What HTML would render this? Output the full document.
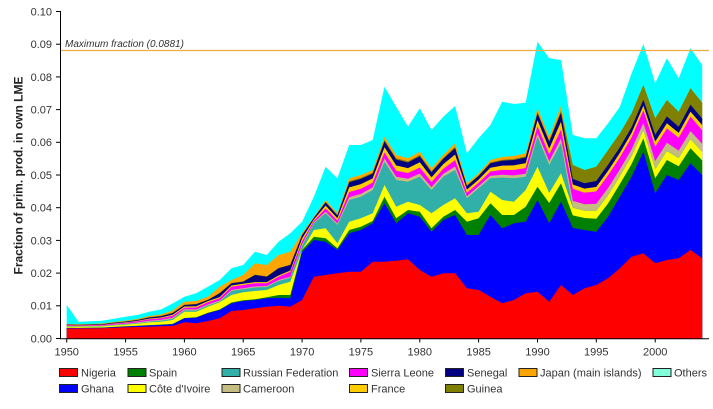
<!DOCTYPE html>
<html>
<head>
<meta charset="utf-8">
<style>
html,body{margin:0;padding:0;background:#fff;}
svg{display:block;}
text{font-family:"Liberation Sans",Arial,sans-serif;}
</style>
</head>
<body>
<svg width="713" height="409" viewBox="0 0 713 409" xmlns="http://www.w3.org/2000/svg">
<rect width="713" height="409" fill="#fff"/>
<!-- Others -->
<polygon fill="#00ffff" points="66.7,338.5 66.7,305 78.5,321.7 90.2,321.3 102,320.7 113.8,318.7 125.6,316.7 137.3,315 149.1,311.7 160.9,309.5 172.6,303.5 184.4,296.7 196.2,293.3 207.9,286.7 219.7,280 231.5,268.3 243.2,265 255,251.7 266.8,255 278.6,241.7 290.3,233.3 302.1,221.7 313.9,196.7 325.6,166.7 337.4,178.3 349.2,145 360.9,145 372.7,140 384.5,86.7 396.2,106.7 408,126.7 419.8,108.3 431.5,130 443.3,116.7 455.1,106 466.9,153.3 478.6,138.3 490.4,125 502.2,101.7 513.9,104 525.7,102.7 537.5,41.7 549.2,58.3 561,60 572.8,135 584.5,138.3 596.3,138.3 608.1,123.3 619.9,106.7 631.6,73.3 643.4,44 655.2,83.3 666.9,58.3 678.7,78.3 690.5,48.3 702.2,65 702.2,338.5"/>
<!-- Japan -->
<polygon fill="#ffa500" points="66.7,338.5 66.7,324 78.5,324.3 90.2,324 102,323.5 113.8,322 125.6,320.7 137.3,319 149.1,316 160.9,314.5 172.6,310.5 184.4,301.7 196.2,301 207.9,296.7 219.7,286.7 231.5,280 243.2,275 255,263.3 266.8,265 278.6,255 290.3,251.7 302.1,233 313.9,216.7 325.6,200 337.4,213.3 349.2,178.3 360.9,175 372.7,170 384.5,136.7 396.2,155 408,158.3 419.8,151.7 431.5,168.3 443.3,155 455.1,143.3 466.9,183.3 478.6,173.3 490.4,160 502.2,157 513.9,156 525.7,153.3 537.5,108.3 549.2,136.7 561,106 572.8,165 584.5,170 596.3,166.7 608.1,150 619.9,133.3 631.6,113.3 643.4,85 655.2,118.3 666.9,100 678.7,111.7 690.5,88.3 702.2,102.7 702.2,338.5"/>
<!-- Guinea -->
<polygon fill="#808000" points="66.7,338.5 66.7,324.5 78.5,324.7 90.2,324.4 102,324 113.8,322.6 125.6,321.4 137.3,319.8 149.1,317.1 160.9,315.8 172.6,312.5 184.4,304.6 196.2,303.9 207.9,299.6 219.7,292.9 231.5,282.9 243.2,281.3 255,274.6 266.8,276.3 278.6,267.9 290.3,264.6 302.1,234.7 313.9,217.6 325.6,201.7 337.4,214.8 349.2,181.1 360.9,177.8 372.7,172.6 384.5,139.9 396.2,158.3 408,161.3 419.8,154.9 431.5,171.1 443.3,157.8 455.1,146.8 466.9,185.3 478.6,175.3 490.4,162.4 502.2,159.7 513.9,158.9 525.7,156.3 537.5,112 549.2,140.4 561,110.8 572.8,165 584.5,170 596.3,166.7 608.1,150 619.9,133.3 631.6,113.3 643.4,85 655.2,118.3 666.9,100 678.7,111.7 690.5,88.3 702.2,102.7 702.2,338.5"/>
<!-- Senegal -->
<polygon fill="#000080" points="66.7,338.5 66.7,324.6 78.5,324.9 90.2,324.6 102,324.2 113.8,322.8 125.6,321.6 137.3,320.1 149.1,317.5 160.9,316.3 172.6,313.2 184.4,305 196.2,304.3 207.9,300 219.7,293.3 231.5,283.3 243.2,281.7 255,275 266.8,276.7 278.6,268.3 290.3,265 302.1,235.3 313.9,217.9 325.6,202.4 337.4,215.4 349.2,182.2 360.9,178.9 372.7,173.6 384.5,141.2 396.2,159.5 408,162.5 419.8,156.2 431.5,172.2 443.3,158.9 455.1,148.1 466.9,186 478.6,176 490.4,163.3 502.2,160.7 513.9,160 525.7,157.5 537.5,113.4 549.2,141.8 561,112.7 572.8,178.9 584.5,183.2 596.3,181 608.1,164.7 619.9,147.2 631.6,127.2 643.4,99.7 655.2,134.8 666.9,116.5 678.7,126.7 690.5,104.8 702.2,118.6 702.2,338.5"/>
<!-- France -->
<polygon fill="#ffcc00" points="66.7,338.5 66.7,325.1 78.5,325.3 90.2,325.1 102,324.7 113.8,323.4 125.6,322.3 137.3,320.9 149.1,318.6 160.9,317.5 172.6,314.8 184.4,306.5 196.2,306.3 207.9,301.1 219.7,297.1 231.5,285.5 243.2,283.8 255,282.1 266.8,282.1 278.6,275.5 290.3,270.5 302.1,238.5 313.9,219.5 325.6,205.6 337.4,218.2 349.2,187.4 360.9,184.1 372.7,178.4 384.5,147.2 396.2,165.5 408,168.1 419.8,162.2 431.5,177.4 443.3,164.1 455.1,154.5 466.9,189.6 478.6,179.6 490.4,167.7 502.2,165.6 513.9,165.4 525.7,163.1 537.5,120.2 549.2,148.6 561,121.7 572.8,184.5 584.5,188.6 596.3,186.9 608.1,170.7 619.9,152.9 631.6,132.9 643.4,105.7 655.2,141.6 666.9,123.3 678.7,132.9 690.5,111.6 702.2,125.1 702.2,338.5"/>
<!-- Sierra Leone -->
<polygon fill="#ff00ff" points="66.7,338.5 66.7,325.4 78.5,325.6 90.2,325.3 102,324.9 113.8,323.7 125.6,322.7 137.3,321.4 149.1,319.2 160.9,318.2 172.6,315.8 184.4,307.7 196.2,307.5 207.9,302.3 219.7,298.3 231.5,286.7 243.2,285 255,283.3 266.8,283.3 278.6,276.7 290.3,271.7 302.1,241.2 313.9,220.9 325.6,208.4 337.4,220.7 349.2,192 360.9,188.7 372.7,182.6 384.5,152.5 396.2,170.8 408,173 419.8,167.5 431.5,182 443.3,168.7 455.1,160.1 466.9,192.8 478.6,182.8 490.4,171.5 502.2,169.9 513.9,170 525.7,168 537.5,126.2 549.2,154.5 561,129.5 572.8,188.9 584.5,192.8 596.3,191.4 608.1,175.3 619.9,157.4 631.6,137.4 643.4,110.3 655.2,146.8 666.9,128.5 678.7,137.7 690.5,116.8 702.2,130.2 702.2,338.5"/>
<!-- Cameroon -->
<polygon fill="#c4bc80" points="66.7,338.5 66.7,326 78.5,326.1 90.2,325.9 102,325.6 113.8,324.6 125.6,323.6 137.3,322.5 149.1,320.7 160.9,319.9 172.6,317.8 184.4,309.3 196.2,309.5 207.9,304.5 219.7,300.5 231.5,290 243.2,288.3 255,286.5 266.8,286 278.6,280 290.3,276.7 302.1,244.3 313.9,222.4 325.6,211.6 337.4,223.5 349.2,197.2 360.9,193.9 372.7,187.4 384.5,158.5 396.2,176.8 408,178.7 419.8,173.5 431.5,187.2 443.3,173.9 455.1,166.5 466.9,196.3 478.6,186.3 490.4,175.9 502.2,174.8 513.9,175.4 525.7,173.7 537.5,133 549.2,161.3 561,138.5 572.8,200.9 584.5,204.2 596.3,203.7 608.1,188 619.9,169.4 631.6,149.4 643.4,123 655.2,161.1 666.9,142.8 678.7,150.6 690.5,131.1 702.2,143.9 702.2,338.5"/>
<!-- Russian Federation -->
<polygon fill="#30b0a8" points="66.7,338.5 66.7,326.3 78.5,326.5 90.2,326.3 102,326 113.8,325 125.6,324.1 137.3,323.2 149.1,321.6 160.9,320.8 172.6,318.9 184.4,310.3 196.2,310.5 207.9,305.5 219.7,301.5 231.5,291 243.2,289.3 255,287.5 266.8,287 278.6,281 290.3,277.7 302.1,246 313.9,223.3 325.6,213.3 337.4,225 349.2,200 360.9,196.7 372.7,190 384.5,161.7 396.2,180 408,181.7 419.8,176.7 431.5,190 443.3,176.7 455.1,170 466.9,198.3 478.6,188.3 490.4,178.3 502.2,177.5 513.9,178.3 525.7,176.7 537.5,136.7 549.2,165 561,143.3 572.8,207.5 584.5,210.5 596.3,210.6 608.1,195 619.9,176.1 631.6,156.1 643.4,130 655.2,168.9 666.9,150.6 678.7,157.8 690.5,138.9 702.2,151.5 702.2,338.5"/>
<!-- Cote d'Ivoire -->
<polygon fill="#ffff00" points="66.7,338.5 66.7,326.7 78.5,326.8 90.2,326.6 102,326.4 113.8,325.5 125.6,324.7 137.3,323.8 149.1,322.4 160.9,321.7 172.6,320 184.4,311.7 196.2,311.7 207.9,306.7 219.7,302.3 231.5,295 243.2,292.3 255,291 266.8,290 278.6,285 290.3,281.7 302.1,250 313.9,230 325.6,228.3 337.4,243.3 349.2,221.7 360.9,218.3 372.7,213.3 384.5,185 396.2,206.7 408,201.7 419.8,205 431.5,213.3 443.3,205 455.1,198.3 466.9,213.3 478.6,211.7 490.4,191.7 502.2,200 513.9,201.7 525.7,190 537.5,166.7 549.2,193 561,173.3 572.8,207.8 584.5,210.8 596.3,210.9 608.1,195.4 619.9,176.4 631.6,156.4 643.4,130.4 655.2,169.3 666.9,151 678.7,158.1 690.5,139.3 702.2,151.9 702.2,338.5"/>
<!-- Spain -->
<polygon fill="#008000" points="66.7,338.5 66.7,327.8 78.5,327.9 90.2,327.7 102,327.6 113.8,326.9 125.6,326.3 137.3,325.8 149.1,325.1 160.9,324.6 172.6,323.9 184.4,318 196.2,317.3 207.9,312.8 219.7,309.5 231.5,302.5 243.2,300.2 255,299.2 266.8,297.3 278.6,295 290.3,295 302.1,250 313.9,236.7 325.6,238.3 337.4,248.3 349.2,230 360.9,226.7 372.7,221 384.5,196.7 396.2,218.3 408,210 419.8,211.7 431.5,228.3 443.3,216.7 455.1,210 466.9,221.7 478.6,218.3 490.4,203.3 502.2,215 513.9,215 525.7,206.7 537.5,186.7 549.2,203 561,183.3 572.8,215.4 584.5,218 596.3,218.7 608.1,203.4 619.9,184 631.6,164 643.4,138.4 655.2,178.3 666.9,160 678.7,166.3 690.5,148.3 702.2,160.5 702.2,338.5"/>
<!-- Ghana -->
<polygon fill="#0000ff" points="66.7,338.5 66.7,328 78.5,328 90.2,327.9 102,327.7 113.8,327.1 125.6,326.5 137.3,326 149.1,325.4 160.9,324.9 172.6,324.3 184.4,318.3 196.2,317.7 207.9,313.3 219.7,310 231.5,303.3 243.2,301 255,300 266.8,298.3 278.6,297.7 290.3,298.3 302.1,252 313.9,240 325.6,241.7 337.4,250 349.2,233.3 360.9,230 372.7,223.3 384.5,203.3 396.2,223.3 408,213.3 419.8,216.7 431.5,231.7 443.3,220 455.1,215 466.9,235 478.6,235 490.4,215 502.2,228.3 513.9,223.3 525.7,221.7 537.5,200 549.2,223.3 561,201.7 572.8,228 584.5,230 596.3,231.7 608.1,216.7 619.9,196.7 631.6,176.7 643.4,151.7 655.2,193.3 666.9,175 678.7,180 690.5,163.3 702.2,175 702.2,338.5"/>
<!-- Nigeria -->
<polygon fill="#ff0000" points="66.7,338.5 66.7,328.5 78.5,328.5 90.2,328.4 102,328.3 113.8,327.8 125.6,327.3 137.3,327 149.1,326.7 160.9,326.3 172.6,326 184.4,322.3 196.2,323.3 207.9,321 219.7,318.3 231.5,311 243.2,310 255,308.3 266.8,306.7 278.6,305.7 290.3,306.7 302.1,300 313.9,276.7 325.6,275 337.4,273.3 349.2,271.7 360.9,271.7 372.7,261.7 384.5,261.7 396.2,260.7 408,259.3 419.8,270 431.5,276.7 443.3,273.3 455.1,273.3 466.9,288.3 478.6,290 490.4,296.7 502.2,303.3 513.9,300 525.7,293.3 537.5,291.7 549.2,301.7 561,285 572.8,295 584.5,288.3 596.3,285 608.1,278.3 619.9,268.3 631.6,256.7 643.4,253.3 655.2,263.3 666.9,260 678.7,258.3 690.5,250 702.2,258.3 702.2,338.5"/>

<!-- max line -->
<line x1="61" y1="50.5" x2="709" y2="50.5" stroke="#f0aa40" stroke-width="1.2"/>
<text x="65" y="47" font-size="10" font-style="italic" fill="#333">Maximum fraction (0.0881)</text>

<!-- axes -->
<line x1="60.5" y1="11" x2="60.5" y2="339" stroke="#000" stroke-width="1"/>
<line x1="60" y1="338.8" x2="709" y2="338.8" stroke="#000" stroke-width="1"/>
<g stroke="#000" stroke-width="1">
<line x1="56" y1="338.5" x2="60.5" y2="338.5"/>
<line x1="56" y1="305.8" x2="60.5" y2="305.8"/>
<line x1="56" y1="273.1" x2="60.5" y2="273.1"/>
<line x1="56" y1="240.4" x2="60.5" y2="240.4"/>
<line x1="56" y1="207.7" x2="60.5" y2="207.7"/>
<line x1="56" y1="175" x2="60.5" y2="175"/>
<line x1="56" y1="142.3" x2="60.5" y2="142.3"/>
<line x1="56" y1="109.6" x2="60.5" y2="109.6"/>
<line x1="56" y1="76.9" x2="60.5" y2="76.9"/>
<line x1="56" y1="44.2" x2="60.5" y2="44.2"/>
<line x1="56" y1="11.5" x2="60.5" y2="11.5"/>
<line x1="66.7" y1="339" x2="66.7" y2="342.5"/>
<line x1="125.6" y1="339" x2="125.6" y2="342.5"/>
<line x1="184.4" y1="339" x2="184.4" y2="342.5"/>
<line x1="243.2" y1="339" x2="243.2" y2="342.5"/>
<line x1="302.1" y1="339" x2="302.1" y2="342.5"/>
<line x1="360.9" y1="339" x2="360.9" y2="342.5"/>
<line x1="419.8" y1="339" x2="419.8" y2="342.5"/>
<line x1="478.6" y1="339" x2="478.6" y2="342.5"/>
<line x1="537.5" y1="339" x2="537.5" y2="342.5"/>
<line x1="596.3" y1="339" x2="596.3" y2="342.5"/>
<line x1="655.2" y1="339" x2="655.2" y2="342.5"/>
</g>
<g font-size="11" fill="#333" text-anchor="end">
<text x="52" y="342.4">0.00</text>
<text x="52" y="309.7">0.01</text>
<text x="52" y="277">0.02</text>
<text x="52" y="244.3">0.03</text>
<text x="52" y="211.6">0.04</text>
<text x="52" y="178.9">0.05</text>
<text x="52" y="146.2">0.06</text>
<text x="52" y="113.5">0.07</text>
<text x="52" y="80.8">0.08</text>
<text x="52" y="48.1">0.09</text>
<text x="52" y="15.4">0.10</text>
</g>
<g font-size="11" fill="#333" text-anchor="middle">
<text x="66.7" y="355.5">1950</text>
<text x="125.6" y="355.5">1955</text>
<text x="184.4" y="355.5">1960</text>
<text x="243.2" y="355.5">1965</text>
<text x="302.1" y="355.5">1970</text>
<text x="360.9" y="355.5">1975</text>
<text x="419.8" y="355.5">1980</text>
<text x="478.6" y="355.5">1985</text>
<text x="537.5" y="355.5">1990</text>
<text x="596.3" y="355.5">1995</text>
<text x="655.2" y="355.5">2000</text>
</g>
<text transform="translate(22.5,175.5) rotate(-90)" text-anchor="middle" font-size="12" font-weight="bold" fill="#222">Fraction of prim. prod. in own LME</text>

<!-- legend -->
<g stroke="#222" stroke-width="1">
<rect x="59.5" y="368.5" width="18" height="8" fill="#ff0000"/>
<rect x="59.5" y="384.5" width="18" height="8" fill="#0000ff"/>
<rect x="128" y="368.5" width="18" height="8" fill="#008000"/>
<rect x="128" y="384.5" width="18" height="8" fill="#ffff00"/>
<rect x="222" y="368.5" width="18" height="8" fill="#30b0a8"/>
<rect x="222" y="384.5" width="18" height="8" fill="#c4bc80"/>
<rect x="349.5" y="368.5" width="18" height="8" fill="#ff00ff"/>
<rect x="349.5" y="384.5" width="18" height="8" fill="#ffcc00"/>
<rect x="445.5" y="368.5" width="18" height="8" fill="#000080"/>
<rect x="445.5" y="384.5" width="18" height="8" fill="#808000"/>
<rect x="519" y="368.5" width="18" height="8" fill="#ffa500"/>
<rect x="653" y="368.5" width="18" height="8" fill="#80ffd8"/>
</g>
<g font-size="11" fill="#333">
<text x="81" y="376.5">Nigeria</text>
<text x="81" y="392.5">Ghana</text>
<text x="149" y="376.5">Spain</text>
<text x="149" y="392.5">Côte d'Ivoire</text>
<text x="243" y="376.5">Russian Federation</text>
<text x="243" y="392.5">Cameroon</text>
<text x="371" y="376.5">Sierra Leone</text>
<text x="371" y="392.5">France</text>
<text x="467" y="376.5">Senegal</text>
<text x="467" y="392.5">Guinea</text>
<text x="540" y="376.5">Japan (main islands)</text>
<text x="674" y="376.5">Others</text>
</g>
</svg>
</body>
</html>
